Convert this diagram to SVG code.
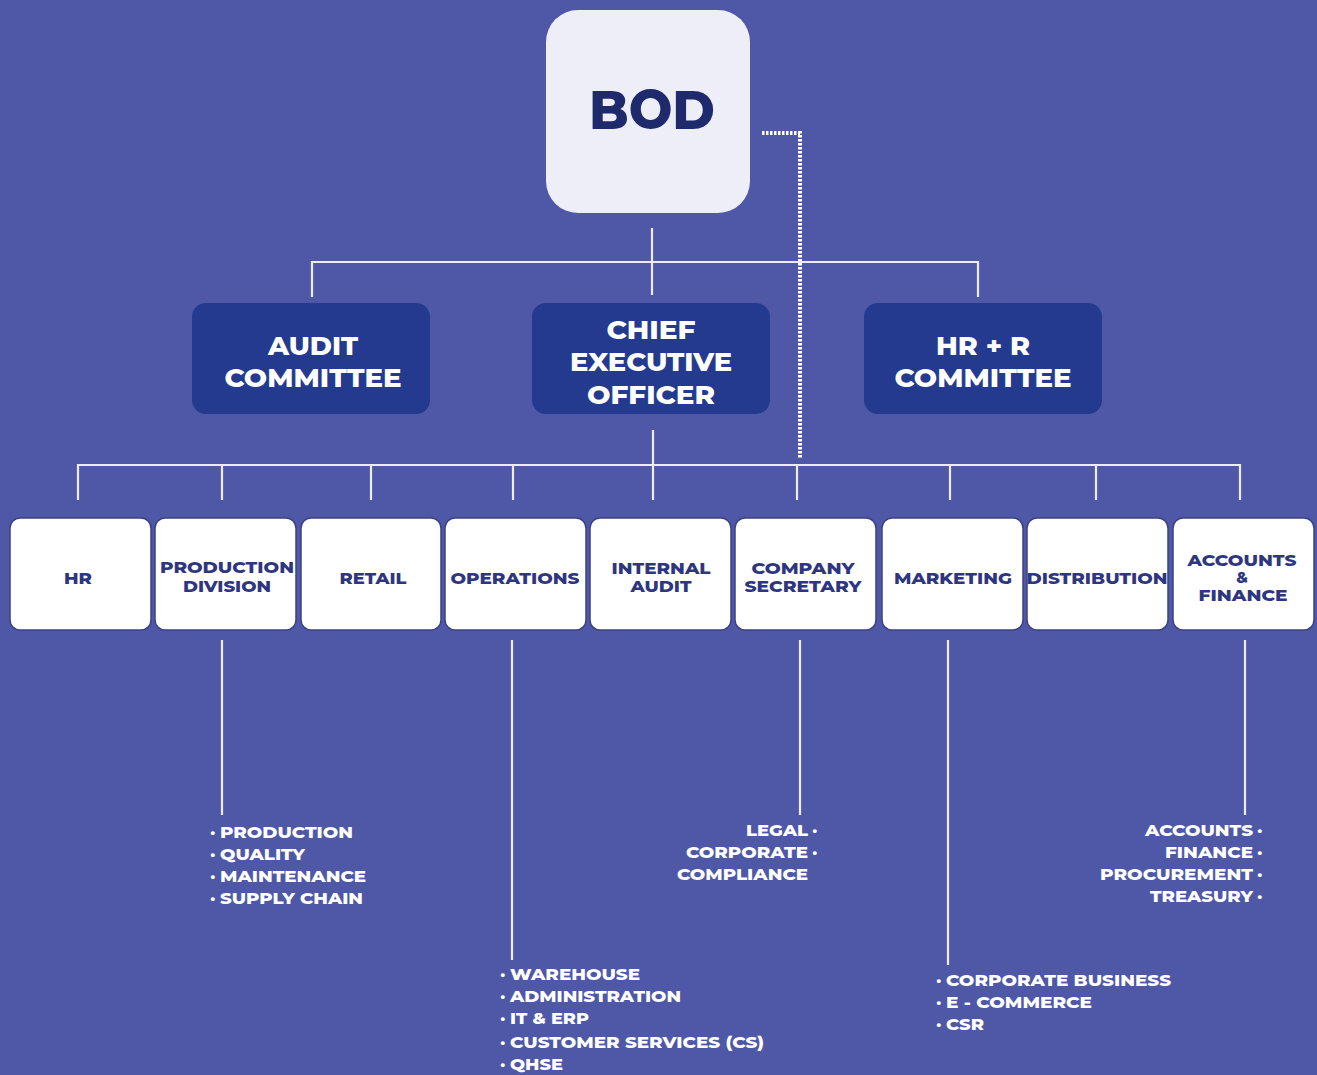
<svg xmlns="http://www.w3.org/2000/svg" width="1317" height="1075" viewBox="0 0 1317 1075">
<style>
.bg{fill:#4e58a6}
.top{fill:#eeeef8}
.mid{fill:#243a8e}
.box{fill:#ffffff;stroke:#3c4183;stroke-width:1.5}
.ln{stroke:#ececf7;stroke-width:2.2;fill:none}
.dot{stroke:#ffffff;stroke-width:4;fill:none;stroke-dasharray:2.5 1.5}
text{font-family:"Montserrat","Open Sans","Liberation Sans",sans-serif;font-weight:800}
.tb{fill:#1f2a6c;font-size:54px;text-anchor:middle}
.tm{fill:#ffffff;font-size:26px;text-anchor:middle}
.tn{fill:#2e3680;font-size:15.5px;text-anchor:middle}
.tl{fill:#ffffff;font-size:17px}
.tr{fill:#ffffff;font-size:17px;text-anchor:end}
</style>
<rect class="bg" x="0" y="0" width="1317" height="1075"/>
<g id="connectors">
<path class="dot" d="M762 133 H800 V458"/>
<path class="ln" d="M652 228 V295"/>
<path class="ln" d="M312 297 V262 H978 V297"/>
<path class="ln" d="M653 430 V500"/>
<path class="ln" d="M78 500 V465 H1240 V500"/>
<path class="ln" d="M222 465 V500 M371 465 V500 M513 465 V500 M797 465 V500 M950 465 V500 M1096 465 V500"/>
<path class="ln" d="M222 640 V815 M512 640 V960 M800 640 V815 M948 640 V965 M1245 640 V815"/>
</g>
<g id="bod"><rect class="top" x="546" y="10" width="204" height="203" rx="32"/><text class="tb" x="652" y="129" textLength="126" lengthAdjust="spacingAndGlyphs">BOD</text></g>
<g id="audit-committee"><rect class="mid" x="192" y="303" width="238" height="111" rx="14"/><text class="tm" x="313" y="355" textLength="90" lengthAdjust="spacingAndGlyphs">AUDIT</text><text class="tm" x="313" y="387" textLength="177" lengthAdjust="spacingAndGlyphs">COMMITTEE</text></g>
<g id="ceo"><rect class="mid" x="532" y="303" width="238" height="111" rx="14"/><text class="tm" x="651" y="339" textLength="89" lengthAdjust="spacingAndGlyphs">CHIEF</text><text class="tm" x="651" y="371" textLength="162" lengthAdjust="spacingAndGlyphs">EXECUTIVE</text><text class="tm" x="651" y="404" textLength="128" lengthAdjust="spacingAndGlyphs">OFFICER</text></g>
<g id="hr-r-committee"><rect class="mid" x="864" y="303" width="238" height="111" rx="14"/><text class="tm" x="983" y="355" textLength="94" lengthAdjust="spacingAndGlyphs">HR + R</text><text class="tm" x="983" y="387" textLength="177" lengthAdjust="spacingAndGlyphs">COMMITTEE</text></g>
<g id="hr"><rect class="box" x="10" y="518" width="141" height="112" rx="10"/><text class="tn" x="78" y="584" textLength="28" lengthAdjust="spacingAndGlyphs">HR</text></g>
<g id="production-division"><rect class="box" x="155" y="518" width="141" height="112" rx="10"/><text class="tn" x="227" y="573" textLength="134" lengthAdjust="spacingAndGlyphs">PRODUCTION</text><text class="tn" x="227" y="592" textLength="88" lengthAdjust="spacingAndGlyphs">DIVISION</text></g>
<g id="retail"><rect class="box" x="301" y="518" width="140" height="112" rx="10"/><text class="tn" x="373" y="584" textLength="67" lengthAdjust="spacingAndGlyphs">RETAIL</text></g>
<g id="operations"><rect class="box" x="445" y="518" width="141" height="112" rx="10"/><text class="tn" x="515" y="584" textLength="129" lengthAdjust="spacingAndGlyphs">OPERATIONS</text></g>
<g id="internal-audit"><rect class="box" x="590" y="518" width="141" height="112" rx="10"/><text class="tn" x="661" y="574" textLength="99" lengthAdjust="spacingAndGlyphs">INTERNAL</text><text class="tn" x="661" y="592" textLength="61" lengthAdjust="spacingAndGlyphs">AUDIT</text></g>
<g id="company-secretary"><rect class="box" x="735" y="518" width="141" height="112" rx="10"/><text class="tn" x="803" y="574" textLength="103" lengthAdjust="spacingAndGlyphs">COMPANY</text><text class="tn" x="803" y="592" textLength="117" lengthAdjust="spacingAndGlyphs">SECRETARY</text></g>
<g id="marketing"><rect class="box" x="882" y="518" width="141" height="112" rx="10"/><text class="tn" x="953" y="584" textLength="118" lengthAdjust="spacingAndGlyphs">MARKETING</text></g>
<g id="distribution"><rect class="box" x="1027" y="518" width="141" height="112" rx="10"/><text class="tn" x="1097" y="584" textLength="141" lengthAdjust="spacingAndGlyphs">DISTRIBUTION</text></g>
<g id="accounts-finance"><rect class="box" x="1173" y="518" width="141" height="112" rx="10"/><text class="tn" x="1242" y="566" textLength="109" lengthAdjust="spacingAndGlyphs">ACCOUNTS</text><text class="tn" x="1242" y="583">&amp;</text><text class="tn" x="1243" y="601" textLength="89" lengthAdjust="spacingAndGlyphs">FINANCE</text></g>
<g id="production-list">
<text class="tl" x="210" y="838">·</text><text class="tl" x="220" y="838" textLength="133" lengthAdjust="spacingAndGlyphs">PRODUCTION</text>
<text class="tl" x="210" y="860">·</text><text class="tl" x="220" y="860" textLength="85" lengthAdjust="spacingAndGlyphs">QUALITY</text>
<text class="tl" x="210" y="882">·</text><text class="tl" x="220" y="882" textLength="146" lengthAdjust="spacingAndGlyphs">MAINTENANCE</text>
<text class="tl" x="210" y="904">·</text><text class="tl" x="220" y="904" textLength="143" lengthAdjust="spacingAndGlyphs">SUPPLY CHAIN</text>
</g>
<g id="operations-list">
<text class="tl" x="500" y="980">·</text><text class="tl" x="510" y="980" textLength="130" lengthAdjust="spacingAndGlyphs">WAREHOUSE</text>
<text class="tl" x="500" y="1002">·</text><text class="tl" x="510" y="1002" textLength="171" lengthAdjust="spacingAndGlyphs">ADMINISTRATION</text>
<text class="tl" x="500" y="1024">·</text><text class="tl" x="510" y="1024" textLength="79" lengthAdjust="spacingAndGlyphs">IT &amp; ERP</text>
<text class="tl" x="500" y="1048">·</text><text class="tl" x="510" y="1048" textLength="254" lengthAdjust="spacingAndGlyphs">CUSTOMER SERVICES (CS)</text>
<text class="tl" x="500" y="1070">·</text><text class="tl" x="510" y="1070" textLength="53" lengthAdjust="spacingAndGlyphs">QHSE</text>
</g>
<g id="secretary-list">
<text class="tr" x="808" y="836" textLength="62" lengthAdjust="spacingAndGlyphs">LEGAL</text><text class="tl" x="812" y="836">·</text>
<text class="tr" x="808" y="858" textLength="122" lengthAdjust="spacingAndGlyphs">CORPORATE</text><text class="tl" x="812" y="858">·</text>
<text class="tr" x="808" y="880" textLength="131" lengthAdjust="spacingAndGlyphs">COMPLIANCE</text>
</g>
<g id="marketing-list">
<text class="tl" x="936" y="986">·</text><text class="tl" x="946" y="986" textLength="225" lengthAdjust="spacingAndGlyphs">CORPORATE BUSINESS</text>
<text class="tl" x="936" y="1008">·</text><text class="tl" x="946" y="1008" textLength="146" lengthAdjust="spacingAndGlyphs">E - COMMERCE</text>
<text class="tl" x="936" y="1030">·</text><text class="tl" x="946" y="1030" textLength="38" lengthAdjust="spacingAndGlyphs">CSR</text>
</g>
<g id="accounts-list">
<text class="tr" x="1253" y="836" textLength="108" lengthAdjust="spacingAndGlyphs">ACCOUNTS</text><text class="tl" x="1257" y="836">·</text>
<text class="tr" x="1253" y="858" textLength="88" lengthAdjust="spacingAndGlyphs">FINANCE</text><text class="tl" x="1257" y="858">·</text>
<text class="tr" x="1253" y="880" textLength="153" lengthAdjust="spacingAndGlyphs">PROCUREMENT</text><text class="tl" x="1257" y="880">·</text>
<text class="tr" x="1253" y="902" textLength="103" lengthAdjust="spacingAndGlyphs">TREASURY</text><text class="tl" x="1257" y="902">·</text>
</g>
</svg>
